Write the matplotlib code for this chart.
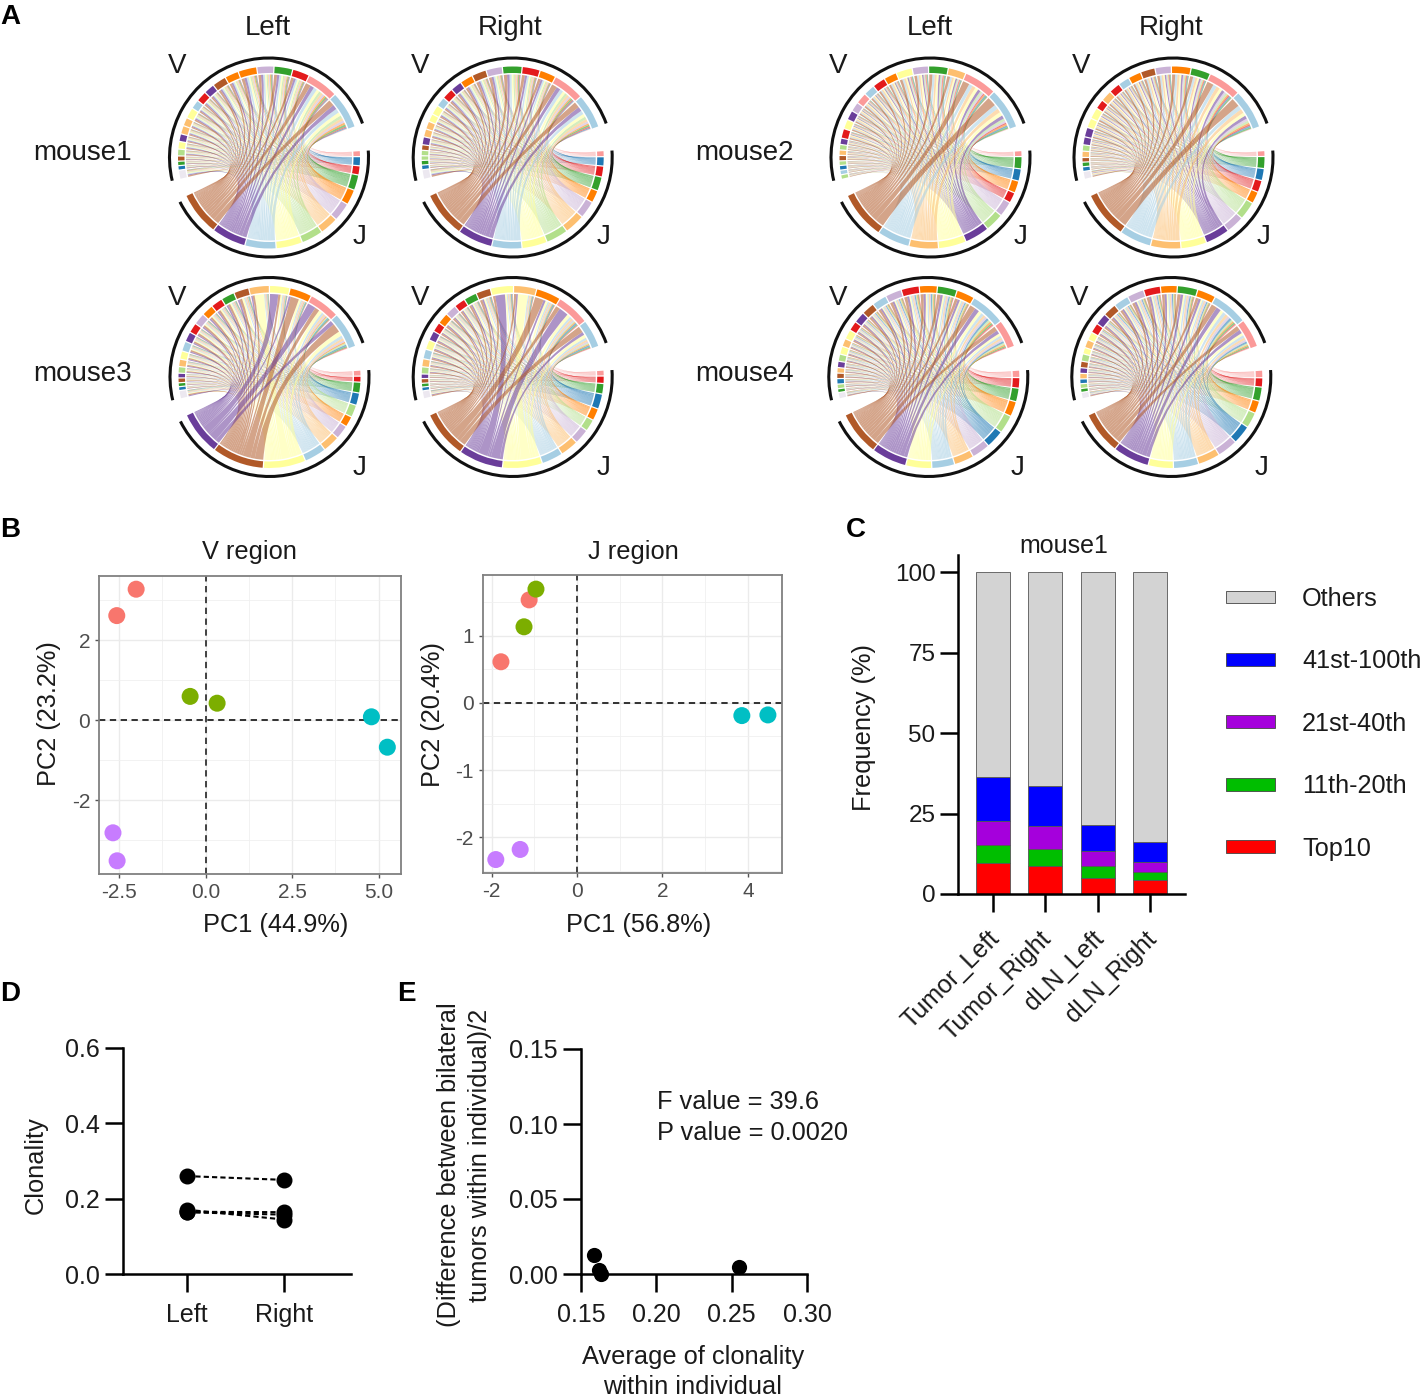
import numpy as np
import matplotlib
matplotlib.use('Agg')
import matplotlib.pyplot as plt
from matplotlib.patches import Arc, PathPatch, Patch, Wedge
from matplotlib.path import Path
from matplotlib.ticker import AutoMinorLocator
from matplotlib.transforms import ScaledTranslation

W, H = 1420, 1397
plt.rcParams['font.family'] = ['Liberation Sans', 'DejaVu Sans']
plt.rcParams['axes.unicode_minus'] = False

PAIRED = {'lb': '#A6CEE3', 'b': '#1F78B4', 'lg': '#B2DF8A', 'g': '#33A02C',
          'pk': '#FB9A99', 'r': '#E31A1C', 'lo': '#FDBF6F', 'o': '#FF7F00',
          'lv': '#CAB2D6', 'p': '#6A3D9A', 'y': '#FFFF99', 'br': '#B15928',
          'gy': '#ECE8F0'}

# panel A, sector sizes in degrees
m1l_v_col = 'lb pk r g lv o o br p r lb y lo lo p y lg br g b gy'.split()
m1l_v = [23, 19, 10, 11, 10, 11, 8, 8, 6, 6, 5, 6, 4.5, 4.5, 4, 4, 3.5, 2.5, 2, 2, 5]
m1l_j_col = 'pk b r g o lv lo lg y lb p br'.split()
m1l_j = [3, 5, 5, 9, 9, 11, 11, 13, 16, 19, 21, 27]

m1r_v_col = 'lb pk o r g lv br o p r lb y y lo lo p br lg lg g b gy'.split()
m1r_v = [20, 18, 9, 10, 11, 9, 8, 7, 6, 6, 5, 5, 4, 4, 4, 4, 2.5, 2.5, 2, 2, 2, 5]
m1r_j_col = 'pk b r g o lv lo lg y lb p br'.split()
m1r_j = [3, 5, 6, 8, 7, 10, 12, 13, 15, 18, 21, 28]

m2l_v_col = 'lb pk lo g lv y o r lb pk lv p y r p lg lo br lg b lb lg'.split()
m2l_v = [24, 19, 10, 11, 9, 9, 7, 7, 6, 6, 5, 5, 5, 5, 3, 2.5, 2.5, 2.5, 2, 2, 2, 2]
m2l_j_col = 'pk g b o r lv lg p y lo lb br'.split()
m2l_j = [3, 7, 7, 7, 6, 9, 11, 15, 17, 18, 20, 30]

m2r_v_col = 'lb pk g o lv br o lb r lo r y y p p lg lo br g b gy'.split()
m2r_v = [23, 19, 11, 11, 9, 8, 7, 6, 6, 6, 5, 6, 5, 5, 4, 3, 3, 2, 2, 2, 4]
m2r_j_col = 'pk g b r o lg lv p y lo lb br'.split()
m2r_j = [3, 7, 7, 7, 7, 11, 11, 15, 16, 19, 20, 30]

m3l_v_col = 'lb pk o y lo br g r o lv r p lb y lo lg p br g b gy'.split()
m3l_v = [20, 17, 12, 11, 11, 8, 7, 6, 6, 6, 5, 5, 5, 4, 3.5, 3, 2, 2, 1.5, 1.5, 4]
m3l_j_col = 'pk r g b lg o lv lo lb y br p'.split()
m3l_j = [3, 3, 6, 7, 7, 6, 8, 10, 13, 26, 32, 27]

m3r_v_col = 'lb pk o lo y br g r lv o r p y lb lo lg p br g b gy'.split()
m3r_v = [16, 19, 14, 13, 13, 8, 7, 6, 6, 6, 5, 5, 5, 5, 4, 3.5, 2, 2, 1.5, 1.5, 4]
m3r_j_col = 'pk r g b o lg lv lo lb y p br'.split()
m3r_j = [3, 4, 6, 9, 7, 7, 9, 11, 13, 25, 28, 30]

m4l_v_col = 'pk lb o g o r lv lb br p r y lo y lg p lo br b lg g gy'.split()
m4l_v = [16, 20, 10, 11, 10, 10, 9, 8, 7, 6, 5, 5, 4, 4, 3.5, 3, 2.5, 2.5, 2.5, 2, 1.5, 3]
m4l_j_col = 'pk r g o lg b lv lo lb y p br'.split()
m4l_j = [4, 6, 8, 9, 11, 11, 11, 12, 14, 16, 22, 28]

m4r_v_col = 'pk lb o g o r lv lb br p r y lo y lg br p lo b lg g gy'.split()
m4r_v = [16, 20, 10, 11, 9, 9, 9, 8, 7, 6, 5, 4, 4, 3, 3.5, 3, 2.5, 2.5, 2, 2, 1.5, 3]
m4r_j_col = 'pk r g o lg b lv lo lb y p br'.split()
m4r_j = [4, 5, 8, 7, 9, 11, 12, 13, 15, 15, 22, 26]

# bands that are clearly wider than their share: (V sector, J sector, weight)
m3l_wide = [(3, 11, 5), (4, 9, 6), (2, 10, 3), (1, 11, 2.5), (0, 10, 1.5)]
m3r_wide = [(3, 9, 6), (4, 10, 6), (2, 11, 3), (1, 10, 3), (0, 11, 1.5)]
m2_wide = [(0, 11, 1.5), (1, 11, 1.3)]

# panel B
v_pc1 = [-2.01, -2.57, -0.45, 0.33, 4.79, 5.25, -2.68, -2.56]
v_pc2 = [3.27, 2.61, 0.59, 0.42, 0.08, -0.68, -2.82, -3.52]
j_pc1 = [-1.12, -1.78, -0.96, -1.24, 3.86, 4.47, -1.90, -1.33]
j_pc2 = [1.53, 0.61, 1.69, 1.13, -0.19, -0.18, -2.33, -2.18]
pca_colors = ['#F8766D'] * 2 + ['#7CAE00'] * 2 + ['#00BFC4'] * 2 + ['#C77CFF'] * 2

# panel C
samples = ['Tumor_Left', 'Tumor_Right', 'dLN_Left', 'dLN_Right']
top10 = [9.5, 8.7, 4.9, 4.2]
rank11_20 = [5.7, 5.3, 3.7, 2.5]
rank21_40 = [7.6, 7.0, 4.8, 3.3]
rank41_100 = [13.4, 12.5, 7.9, 6.3]
others = [63.8, 66.5, 78.7, 83.7]
clone_labels = ['Top10', '11th-20th', '21st-40th', '41st-100th', 'Others']
clone_colors = ['#FF0000', '#00BE00', '#A500DC', '#0000FF', '#D3D3D3']

# panel D
clonality_left = [0.26, 0.171, 0.164, 0.1655]
clonality_right = [0.25, 0.145, 0.158, 0.1645]

# panel E
avg_clonality = [0.255, 0.1586, 0.162, 0.1635]
half_diff = [0.005, 0.0127, 0.0027, 0.0003]


def ax_px(fig, left, top, right, bottom):
    return fig.add_axes([left / W, 1 - bottom / H, (right - left) / W, (bottom - top) / H])


def label(fig, x, y, s, size=18.3, **kw):
    kw.setdefault('ha', 'center')
    kw.setdefault('va', 'center')
    kw.setdefault('color', '#1a1a1a')
    # glyphs sit a little high of the box centre
    if kw.get('rotation') == 90:
        x += 2
    else:
        y += 2
    return fig.text(x / W, 1 - y / H, s, fontsize=size, **kw)


def fit_flows(v_sizes, j_sizes, wide):
    v_share = np.array(v_sizes, float) / sum(v_sizes)
    j_share = np.array(j_sizes, float) / sum(j_sizes)
    flow = np.outer(v_share, j_share)
    for v, j, weight in wide:
        flow[v, j] *= weight
    for _ in range(30):
        flow *= (v_share / flow.sum(axis=1))[:, None]
        flow *= (j_share / flow.sum(axis=0))[None, :]
    return flow


def polar(r, deg):
    rad = np.deg2rad(deg)
    return r * np.cos(rad), r * np.sin(rad)


def link_path(r, a1, a2, b1, b2):
    verts = [polar(r, a) for a in np.linspace(a1, a2, 5)]
    codes = [Path.MOVETO] + [Path.LINETO] * 4
    verts += [(0, 0), polar(r, b2)]
    codes += [Path.CURVE3, Path.CURVE3]
    verts += [polar(r, b) for b in np.linspace(b2, b1, 5)[1:]]
    codes += [Path.LINETO] * 4
    verts += [(0, 0), polar(r, a1), polar(r, a1)]
    codes += [Path.CURVE3, Path.CURVE3, Path.CLOSEPOLY]
    return Path(verts, codes)


def chord(fig, cx, cy, v_cols, v_sizes, j_cols, j_sizes, wide=()):
    ax = ax_px(fig, cx - 110, cy - 110, cx + 110, cy + 110)
    ax.set_xlim(-110, 110)
    ax.set_ylim(-110, 110)
    ax.set_aspect('equal')
    ax.axis('off')

    v_from, v_to = 20.0, 193.5
    j_from, j_to = 4.0, -155.0
    gap = 0.8
    flow = fit_flows(v_sizes, j_sizes, wide)
    kv = (v_to - v_from - gap * (len(v_sizes) - 1))
    kj = (j_from - j_to - gap * (len(j_sizes) - 1))

    v_share = flow.sum(axis=1)
    j_share = flow.sum(axis=0)
    v_start = v_from + np.concatenate([[0], np.cumsum(v_share * kv + gap)[:-1]])
    j_start = j_from - np.concatenate([[0], np.cumsum(j_share * kj + gap)[:-1]])

    for a, s, c in zip(v_start, v_share * kv, v_cols):
        ax.add_patch(Wedge((0, 0), 91, a, a + s, width=6.5, fc=PAIRED[c], ec='none'))
    for b, s, c in zip(j_start, j_share * kj, j_cols):
        ax.add_patch(Wedge((0, 0), 91, b - s, b, width=6.5, fc=PAIRED[c], ec='none'))

    v_pos = v_start.copy()
    j_pos = j_start.copy()
    for j, col in enumerate(j_cols):
        for v in range(len(v_cols)):
            a1 = v_pos[v]
            a2 = a1 + flow[v, j] * kv
            b1 = j_pos[j]
            b2 = b1 - flow[v, j] * kj
            v_pos[v] = a2
            j_pos[j] = b2
            ax.add_patch(PathPatch(link_path(83, a1, a2, b1, b2), fc=PAIRED[col],
                                   ec='none', alpha=0.55))

    ax.add_patch(Arc((0, 0), 199, 199, theta1=v_from, theta2=v_to, color='#111111', lw=2.2))
    ax.add_patch(Arc((0, 0), 199, 199, theta1=j_to + 1.5, theta2=j_from, color='#111111', lw=2.2))


def style_pca(ax, xlim, ylim, xticks, yticks, xfmt):
    ax.set_xlim(xlim)
    ax.set_ylim(ylim)
    ax.set_xticks(xticks)
    ax.set_xticklabels([xfmt % t for t in xticks])
    ax.set_yticks(yticks)
    ax.xaxis.set_minor_locator(AutoMinorLocator(2))
    ax.yaxis.set_minor_locator(AutoMinorLocator(2))
    ax.grid(True, which='major', color='#EBEBEB', lw=1.0)
    ax.grid(True, which='minor', color='#F0F0F0', lw=0.6)
    ax.set_axisbelow(True)
    ax.tick_params(which='minor', length=0)
    ax.tick_params(which='major', length=3, color='#555555', labelsize=15,
                   labelcolor='#4D4D4D', width=1)
    for s in ax.spines.values():
        s.set_color('#808080')
        s.set_linewidth(1.3)
    ax.axhline(0, color='#222222', ls=(0, (3.5, 2.5)), lw=1.3)
    ax.axvline(0, color='#333333', ls=(0, (3.5, 2.5)), lw=1.3)


def prism_axes(ax, size=18):
    for s in ('top', 'right'):
        ax.spines[s].set_visible(False)
    for s in ('left', 'bottom'):
        ax.spines[s].set_linewidth(1.8)
    ax.tick_params(length=13, width=1.8, labelsize=size, labelcolor='#1a1a1a')


fig = plt.figure(figsize=(W / 100, H / 100), dpi=100)

# panel A
for x, y, s in [(10, 15, 'A'), (10, 528, 'B'), (856, 528, 'C'), (10, 992, 'D'), (406, 992, 'E')]:
    label(fig, x, y, s, size=20, fontweight='bold', color='black')
for x, s in [(268, 'Left'), (510, 'Right'), (930, 'Left'), (1171, 'Right')]:
    label(fig, x, 26, s, size=20)
for x, y, s in [(33, 151, 'mouse1'), (695, 151, 'mouse2'), (33, 372, 'mouse3'), (695, 372, 'mouse4')]:
    label(fig, x, y, s, size=20, ha='left')

chord(fig, 269, 157.5, m1l_v_col, m1l_v, m1l_j_col, m1l_j)
chord(fig, 512.7, 157.5, m1r_v_col, m1r_v, m1r_j_col, m1r_j)
chord(fig, 930.5, 157.5, m2l_v_col, m2l_v, m2l_j_col, m2l_j, m2_wide)
chord(fig, 1173.5, 157.5, m2r_v_col, m2r_v, m2r_j_col, m2r_j, m2_wide)
chord(fig, 269.5, 377, m3l_v_col, m3l_v, m3l_j_col, m3l_j, m3l_wide)
chord(fig, 512.7, 377, m3r_v_col, m3r_v, m3r_j_col, m3r_j, m3r_wide)
chord(fig, 928.3, 377, m4l_v_col, m4l_v, m4l_j_col, m4l_j)
chord(fig, 1171.3, 377, m4r_v_col, m4r_v, m4r_j_col, m4r_j)

for x, y in [(177, 64), (420, 64), (838, 64), (1081, 64), (177, 296), (420, 296), (838, 296), (1079, 296)]:
    label(fig, x, y, 'V', size=20)
for x, y in [(360, 235), (604, 235), (1021, 235), (1264, 235), (360, 466), (604, 466), (1018, 466), (1262, 466)]:
    label(fig, x, y, 'J', size=20)

# panel B
ax = ax_px(fig, 99.3, 576, 401, 874)
style_pca(ax, (-3.075, 5.645), (-3.85, 3.6), [-2.5, 0, 2.5, 5], [-2, 0, 2], '%.1f')
ax.scatter(v_pc1, v_pc2, s=150, c=pca_colors, linewidths=0, zorder=3)
label(fig, 249, 550, 'V region')
label(fig, 276, 923, 'PC1 (44.9%)')
label(fig, 47, 714, 'PC2 (23.2%)', rotation=90)

ax = ax_px(fig, 483, 575, 782, 873)
style_pca(ax, (-2.2, 4.8), (-2.53, 1.9), [-2, 0, 2, 4], [-2, -1, 0, 1], '%d')
ax.scatter(j_pc1, j_pc2, s=150, c=pca_colors, linewidths=0, zorder=3)
label(fig, 633, 550, 'J region')
label(fig, 639, 923, 'PC1 (56.8%)')
label(fig, 431, 714, 'PC2 (20.4%)', rotation=90)

# panel C
ax = ax_px(fig, 958.4, 555, 1185, 894)
prism_axes(ax, 17.5)
x_pos = np.arange(len(samples))
bottom = np.zeros(len(samples))
for values, col in zip([top10, rank11_20, rank21_40, rank41_100, others], clone_colors):
    ax.bar(x_pos, values, 0.65, bottom=bottom, color=col, edgecolor='#555555', linewidth=0.6)
    bottom += np.array(values)
ax.set_xlim(-0.66, 3.67)
ax.set_ylim(0, 105.3)
ax.set_yticks([0, 25, 50, 75, 100])
ax.set_xticks(x_pos)
ax.set_xticklabels(samples, rotation=45, ha='right', rotation_mode='anchor', fontsize=18)
ax.tick_params(axis='x', pad=10.5)
shift = ScaledTranslation(-6 / 100, 0, fig.dpi_scale_trans)
for t in ax.get_xticklabels():
    t.set_transform(t.get_transform() + shift)
label(fig, 1064, 544, 'mouse1', size=18)
label(fig, 862, 728, 'Frequency (%)', rotation=90)
handles = [Patch(fc=c, ec='#444444', lw=0.6) for c in clone_colors[::-1]]
fig.legend(handles, clone_labels[::-1], loc='upper left', bbox_to_anchor=(1226 / W, 1 - 587 / H),
           frameon=False, fontsize=18.2, handlelength=1.94, handleheight=0.4,
           labelspacing=1.52, handletextpad=1.07, borderpad=0, borderaxespad=0,
           labelcolor='#1a1a1a')

# panel D
ax = ax_px(fig, 123, 1047.7, 351, 1274.3)
prism_axes(ax)
for left, right in zip(clonality_left, clonality_right):
    ax.plot([0, 1], [left, right], color='black', ls=(0, (2.5, 1.5)), lw=1.5,
            marker='o', ms=10.5, mfc='black', mec='black', clip_on=False)
ax.set_xlim(-0.66, 1.69)
ax.set_ylim(0, 0.6)
ax.set_xticks([0, 1])
ax.set_xticklabels(['Left', 'Right'])
ax.set_yticks([0, 0.2, 0.4, 0.6])
ax.tick_params(axis='x', pad=8)
label(fig, 34, 1165, 'Clonality', rotation=90)

# panel E
ax = ax_px(fig, 581, 1049, 807, 1274)
prism_axes(ax)
ax.scatter(avg_clonality, half_diff, s=120, color='black', linewidths=0, clip_on=False, zorder=3)
ax.set_xlim(0.15, 0.30)
ax.set_ylim(0, 0.15)
ax.set_xticks([0.15, 0.20, 0.25, 0.30])
ax.set_yticks([0, 0.05, 0.10, 0.15])
ax.set_xticklabels(['0.15', '0.20', '0.25', '0.30'])
ax.set_yticklabels(['0.00', '0.05', '0.10', '0.15'])
ax.tick_params(axis='x', pad=8)
label(fig, 447, 1165, '(Difference between bilateral', rotation=90)
label(fig, 478, 1155, 'tumors within individual)/2', rotation=90)
label(fig, 657, 1100, 'F value = 39.6', ha='left')
label(fig, 657, 1131, 'P value = 0.0020', ha='left')
label(fig, 693, 1355, 'Average of clonality')
label(fig, 693, 1385, 'within individual')

fig.savefig('out.png', dpi=100)
